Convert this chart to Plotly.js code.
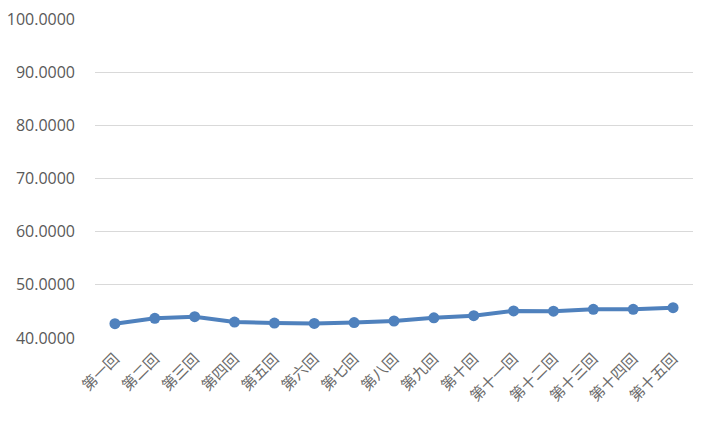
<!DOCTYPE html>
<html>
<head>
<meta charset="utf-8">
<script src="https://cdn.plot.ly/plotly-3.0.1.min.js"></script>
<style>html,body{margin:0;padding:0;background:#fff;}#chart{width:703px;height:421px;}</style>
</head>
<body>
<div id="chart"></div>
<script>
const categories = ["第一回","第二回","第三回","第四回","第五回","第六回","第七回","第八回","第九回","第十回","第十一回","第十二回","第十三回","第十四回","第十五回"];
const values = [42.7, 43.7, 44.0, 43.0, 42.8, 42.75, 42.9, 43.2, 43.8, 44.2, 45.1, 45.05, 45.4, 45.4, 45.7];
const yTicks = [40, 50, 60, 70, 80, 90, 100];

const trace = {
  x: categories,
  y: values,
  type: 'scatter',
  mode: 'lines+markers',
  line: {color: '#4F81BD', width: 4},
  marker: {color: '#4F81BD', size: 11},
  hoverinfo: 'x+y'
};

const layout = {
  width: 703,
  height: 421,
  margin: {l: 95, r: 10, t: 19, b: 83},
  paper_bgcolor: '#ffffff',
  plot_bgcolor: '#ffffff',
  showlegend: false,
  xaxis: {
    type: 'category',
    range: [-0.5, categories.length - 0.5],
    tickangle: -45,
    showgrid: false,
    zeroline: false,
    showline: false,
    ticks: '',
    ticklabelstandoff: 8,
    tickfont: {family: '"Noto Sans CJK SC", sans-serif', size: 15, color: '#6b6b6b'}
  },
  yaxis: {
    range: [40, 100],
    tickvals: yTicks,
    ticktext: yTicks.map(v => v.toFixed(4)),
    showgrid: true,
    gridcolor: '#D9D9D9',
    gridwidth: 1,
    zeroline: false,
    showline: false,
    ticks: '',
    ticklabelstandoff: 19,
    tickfont: {family: '"Open Sans", sans-serif', size: 16, color: '#595959'}
  },
  shapes: [{
    type: 'rect', xref: 'paper', yref: 'paper',
    x0: (349 - 95) / 598, x1: (355 - 95) / 598,
    y0: (402 - 0) / 319, y1: (402 + 6) / 319,
    line: {color: '#BFBFBF', width: 1}, fillcolor: 'rgba(0,0,0,0)'
  }]
};

Plotly.newPlot('chart', [trace], layout, {displayModeBar: false, staticPlot: true});
</script>
</body>
</html>
